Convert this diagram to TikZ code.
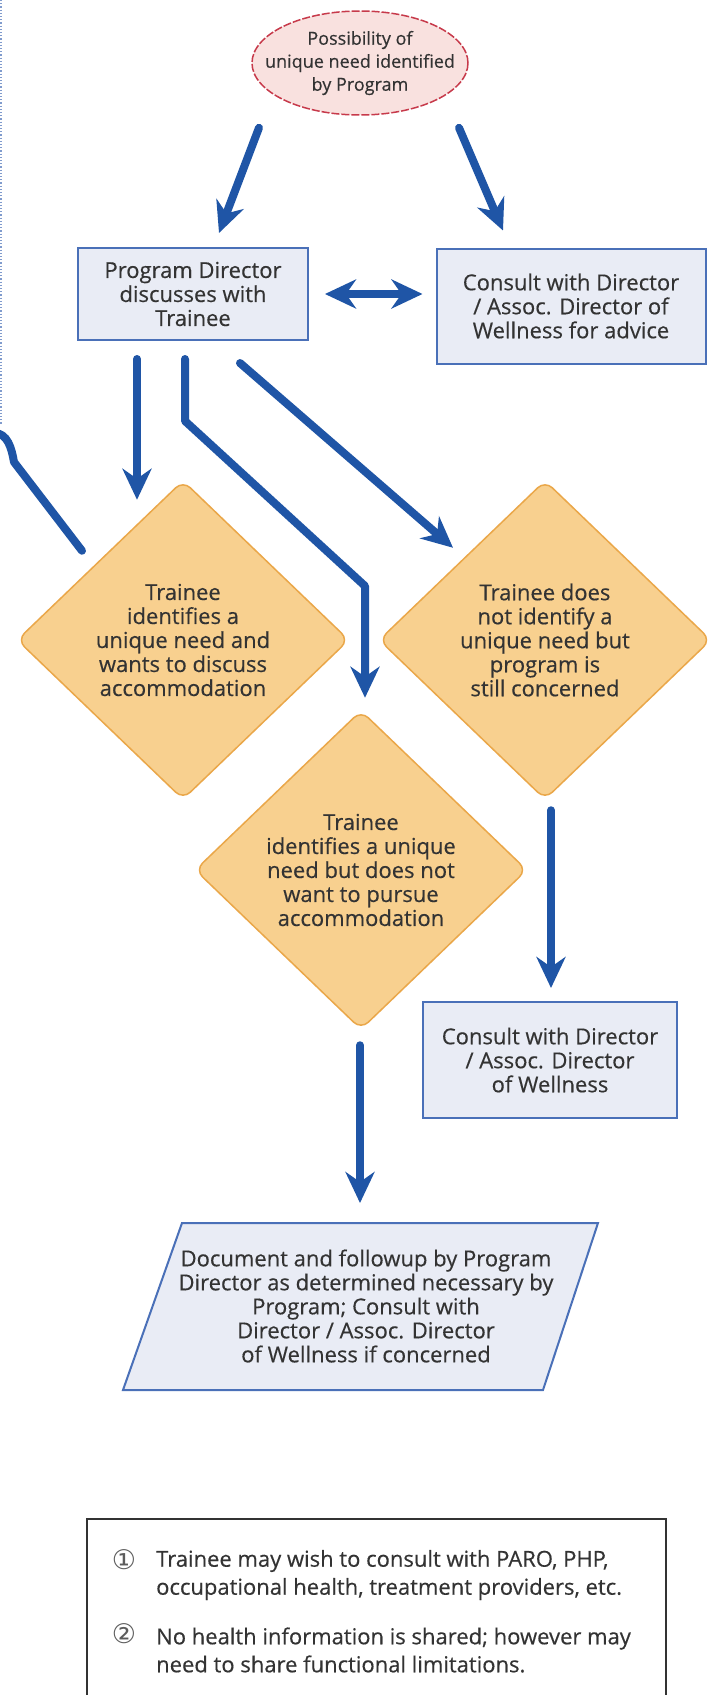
\documentclass[tikz,border=0pt]{standalone}
\usepackage{fontspec}
\setmainfont{Open Sans}
\newfontfamily\boxfont[FakeBold=0.4]{Open Sans}
\newfontfamily\symfont{DejaVu Sans}
\usepackage{xcolor}
\usetikzlibrary{shapes.geometric, arrows.meta, calc}

\definecolor{flowblue}{HTML}{1F55A6}
\definecolor{boxfill}{HTML}{E9ECF5}
\definecolor{boxline}{HTML}{4A70B8}
\definecolor{dfill}{HTML}{F8D08F}
\definecolor{dline}{HTML}{EAA749}
\definecolor{efill}{HTML}{F9E1DF}
\definecolor{eline}{HTML}{C73A4B}
\definecolor{txt}{HTML}{333333}

\tikzset{
 flowline/.style = {line width=8pt, flowblue, line cap=round, line join=round},
 flow/.style = {flowline, -{Stealth[length=31pt, width=29pt, inset=10pt]}},
 both/.style = {flowline, {Stealth[length=31pt, width=29pt, inset=10pt]}-{Stealth[length=31pt, width=29pt, inset=10pt]}},
 box/.style = {rectangle, draw=boxline, line width=2pt, fill=boxfill, align=center, text=txt, inner sep=0pt, font=\boxfont\fontsize{22}{24}\selectfont},
 start/.style = {ellipse, draw=eline, dash pattern=on 8pt off 2pt, line width=1.5pt, fill=efill, minimum width=216pt, minimum height=104pt, inner xsep=-19pt, inner ysep=0pt, align=center, text=txt, font=\boxfont\fontsize{18}{23}\selectfont},
 decision/.style = {diamond, draw=dline, line width=1.5pt, fill=dfill, rounded corners=10pt, minimum width=332pt, minimum height=319pt, inner sep=0pt, align=center, text=txt, font=\boxfont\fontsize{22}{24}\selectfont},
 docbox/.style = {draw=boxline, line width=2pt, fill=boxfill},
 doctext/.style = {align=center, text=txt, inner sep=0pt, font=\boxfont\fontsize{22}{24}\selectfont},
 legendbox/.style = {rectangle, draw=black!80, line width=2pt, fill=white, anchor=north west},
 note/.style = {anchor=west, align=left, inner sep=0pt, text=txt, font=\boxfont\fontsize{22}{28}\selectfont},
 numsign/.style = {inner sep=0pt, text=txt!80, font=\symfont\fontsize{27}{28}\selectfont}
}

\begin{document}
\begin{tikzpicture}[x=1pt, y=-1pt]
 \useasboundingbox (0,0) rectangle (711,1695);
 \clip (0,0) rectangle (711,1695);
 \fill [white] (0,0) rectangle (711,1695);
 \draw [dotted, line width=1.2pt, boxline!70] (1,0) -- (1,425);

 \node [start] (poss) at (360,63) {Possibility of\\unique need identified\\by Program};
 \node [box, minimum width=230pt, minimum height=92pt] (pd) at (193,294) {Program Director\\discusses with\\Trainee};
 \node [box, minimum width=269pt, minimum height=115pt] (adv) at (571,306) {Consult with Director\\/ Assoc. Director of\\Wellness for advice};
 \node [decision] (wants) at (183,640) {Trainee\\identifies a\\unique need and\\wants to discuss\\accommodation};
 \node [decision] (concern) at (545,640) {Trainee does\\not identify a\\unique need but\\program is\\still concerned};
 \node [decision] (nopursue) at (361,870) {Trainee\\identifies a unique\\need but does not\\want to pursue\\accommodation};
 \node [box, minimum width=254pt, minimum height=116pt] (well) at (550,1060) {Consult with Director\\/ Assoc. Director\\of Wellness};

 \coordinate (docc) at (361,1306);
 \draw [docbox] ($(docc)+(-179,-83)$) -- ($(docc)+(237,-83)$) -- ($(docc)+(182,84)$) -- ($(docc)+(-238,84)$) -- cycle;
 \node [doctext] (doc) at ($(docc)+(5,0)$) {Document and followup by Program\\Director as determined necessary by\\Program; Consult with\\Director / Assoc. Director\\of Wellness if concerned};

 \draw [flow] ($(poss.south)+(-101,12)$) -- ($(pd.north)+(26,-14)$);
 \draw [flow] ($(poss.south)+(99,12)$) -- ($(adv.north)+(-68,-17)$);
 \draw [both] ($(pd.east)+(16,0)$) -- ($(adv.west)+(-13,-12)$);
 \draw [flow] ($(pd.south)+(-56,18)$) -- ($(wants.north)+(-46,20)$);
 \draw [flow] ($(pd.south)+(-8,18)$) -- ++(0,62) -- ++(180,165) -- ($(nopursue.north)+(4,-12)$);
 \draw [flow] ($(pd.south)+(47,22)$) -- ($(concern.north)+(-92,68)$);
 \draw [flow] ($(concern.south)+(6,10)$) -- ($(well.north)+(1,-13)$);
 \draw [flow] ($(nopursue.south)+(-1,15)$) -- ($(docc)+(-1,-103)$);

 \coordinate (offpage) at (-6,433);
 \draw [flowline] (offpage) to [out=0, in=100] (14,462) -- ($(wants.north)+(-101,71)$);

 % notes at the bottom
 \node [legendbox, minimum width=579pt, minimum height=220pt] (legend) at (86,1518) {};
 \node [numsign] (numA) at (124,1560) {①};
 \node [note] (noteA) at (156,1575) {Trainee may wish to consult with PARO, PHP,\\occupational health, treatment providers, etc.};
 \node [numsign] (numB) at (124,1634) {②};
 \node [note] (noteB) at (156,1650) {No health information is shared; however may\\need to share functional limitations.};
\end{tikzpicture}
\end{document}
